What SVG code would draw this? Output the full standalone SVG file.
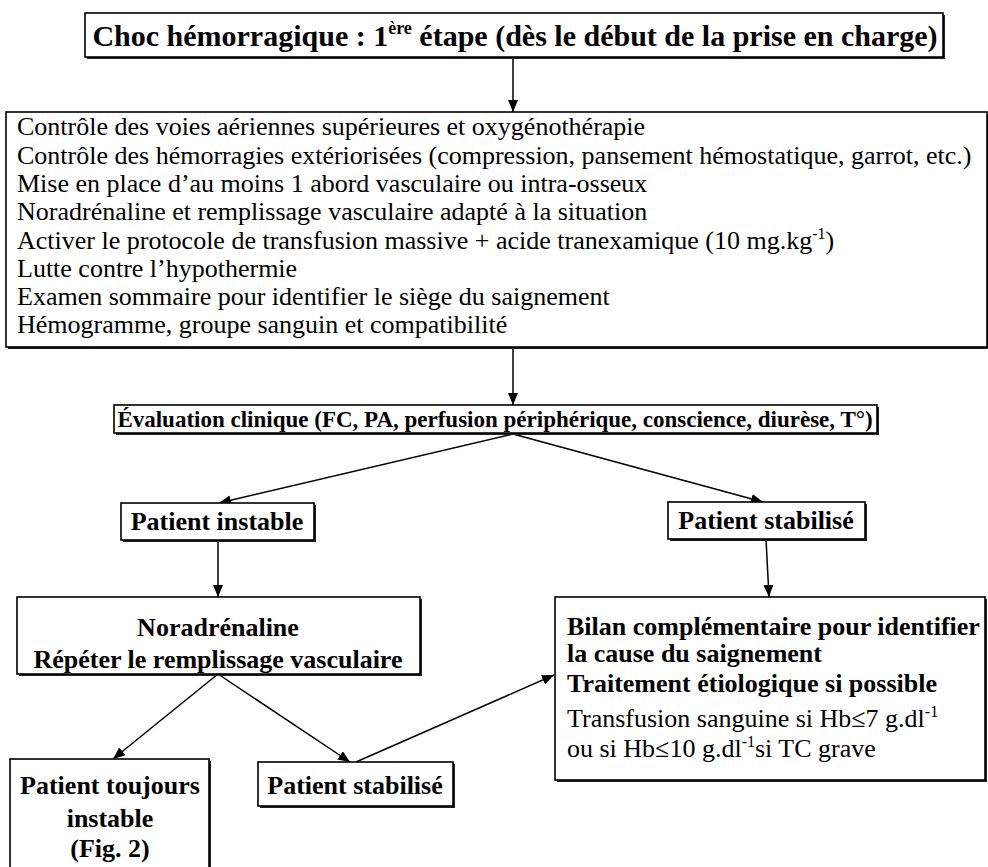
<svg xmlns="http://www.w3.org/2000/svg" width="988" height="867" viewBox="0 0 988 867">
<defs>
<style>
.bg{fill:#fff}
.box{fill:#fff;stroke:#000;stroke-width:1.6}
.sh{fill:#222}
.t{font-family:"Liberation Serif","Times New Roman",serif;fill:#000}
.b{font-weight:bold;font-size:26px}
.r{font-size:26px}
.c{text-anchor:middle}
.ln{stroke:#000;stroke-width:1.5;fill:none;marker-end:url(#ah)}
</style>
<marker id="ah" markerWidth="12" markerHeight="10" refX="12" refY="5" orient="auto" markerUnits="userSpaceOnUse">
<path d="M0,0 L12,5 L0,10 z" fill="#000"/>
</marker>
</defs>
<rect class="bg" x="0" y="0" width="988" height="867"/>

<g id="connectors">
<line class="ln" x1="513" y1="57" x2="513" y2="112"/>
<line class="ln" x1="513" y1="347" x2="513" y2="405"/>
<line class="ln" x1="513" y1="434" x2="219" y2="503"/>
<line class="ln" x1="513" y1="434" x2="763" y2="502"/>
<line class="ln" x1="218" y1="541" x2="218" y2="597"/>
<line class="ln" x1="766" y1="539" x2="769" y2="597"/>
<line class="ln" x1="218" y1="674" x2="113" y2="759"/>
<line class="ln" x1="218" y1="674" x2="350" y2="762"/>
<line class="ln" x1="356" y1="762" x2="554" y2="675"/>
</g>

<g id="title">
<rect class="sh" x="87" y="15" width="858" height="44"/>
<rect class="box" x="85" y="13" width="858" height="44"/>
<text class="t c" x="515" y="46" font-size="30" font-weight="bold">Choc hémorragique : 1<tspan font-size="18" dy="-12">ère</tspan><tspan dy="12"> étape (dès le début de la prise en charge)</tspan></text>
</g>

<g id="actions">
<rect class="sh" x="8" y="114" width="981" height="235"/>
<rect class="box" x="6" y="112" width="981" height="235"/>
<text class="t r" x="17" y="135">Contrôle des voies aériennes supérieures et oxygénothérapie</text>
<text class="t r" x="17" y="164">Contrôle des hémorragies extériorisées (compression, pansement hémostatique, garrot, etc.)</text>
<text class="t r" x="17" y="192">Mise en place d’au moins 1 abord vasculaire ou intra-osseux</text>
<text class="t r" x="17" y="220">Noradrénaline et remplissage vasculaire adapté à la situation</text>
<text class="t r" x="17" y="249">Activer le protocole de transfusion massive + acide tranexamique (10 mg.kg<tspan font-size="16" dy="-10">-1</tspan><tspan dy="10">)</tspan></text>
<text class="t r" x="17" y="277">Lutte contre l’hypothermie</text>
<text class="t r" x="17" y="305">Examen sommaire pour identifier le siège du saignement</text>
<text class="t r" x="17" y="333">Hémogramme, groupe sanguin et compatibilité</text>
</g>

<g id="evaluation">
<rect class="sh" x="116" y="407" width="763" height="28"/>
<rect class="box" x="114" y="405" width="763" height="28"/>
<text class="t c" x="495" y="427" font-size="23" font-weight="bold">Évaluation clinique (FC, PA, perfusion périphérique, conscience, diurèse, T°)</text>
</g>

<g id="instable">
<rect class="sh" x="123" y="505" width="193" height="37"/>
<rect class="box" x="121" y="503" width="193" height="37"/>
<text class="t b c" x="217" y="530">Patient instable</text>
</g>

<g id="stabilise1">
<rect class="sh" x="670" y="504" width="197" height="37"/>
<rect class="box" x="668" y="502" width="197" height="37"/>
<text class="t b c" x="766" y="529">Patient stabilisé</text>
</g>

<g id="noradrenaline">
<rect class="sh" x="19" y="599" width="403" height="77"/>
<rect class="box" x="17" y="597" width="403" height="77"/>
<text class="t b c" x="218" y="636">Noradrénaline</text>
<text class="t b c" x="218" y="668">Répéter le remplissage vasculaire</text>
</g>

<g id="bilan">
<rect class="sh" x="557" y="599" width="430" height="183"/>
<rect class="box" x="555" y="597" width="430" height="183"/>
<text class="t b" x="567" y="635">Bilan complémentaire pour identifier</text>
<text class="t b" x="567" y="662">la cause du saignement</text>
<text class="t b" x="567" y="692">Traitement étiologique si possible</text>
<text class="t r" x="567" y="727">Transfusion sanguine si Hb≤7 g.dl<tspan font-size="16" dy="-10">-1</tspan></text>
<text class="t r" x="567" y="757">ou si Hb≤10 g.dl<tspan font-size="16" dy="-10">-1</tspan><tspan dy="10">si TC grave</tspan></text>
</g>

<g id="toujours">
<rect class="sh" x="12" y="761" width="199" height="120"/>
<rect class="box" x="10" y="759" width="199" height="120"/>
<text class="t b c" x="110" y="794">Patient toujours</text>
<text class="t b c" x="110" y="827">instable</text>
<text class="t b c" x="110" y="857">(Fig. 2)</text>
</g>

<g id="stabilise2">
<rect class="sh" x="260" y="764" width="195" height="44"/>
<rect class="box" x="258" y="762" width="195" height="44"/>
<text class="t b c" x="355" y="794">Patient stabilisé</text>
</g>
</svg>
